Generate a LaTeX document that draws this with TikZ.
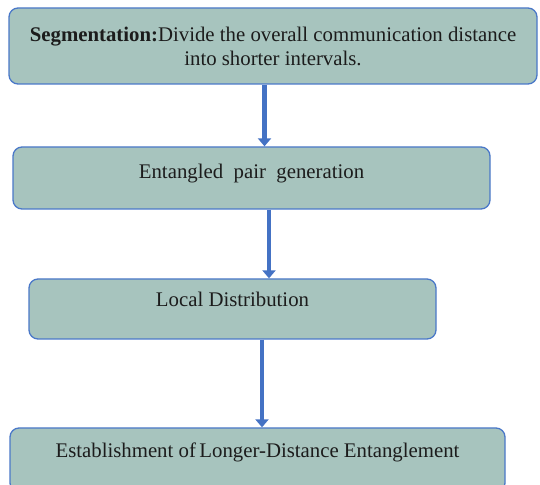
\documentclass[tikz,border=0pt]{standalone}
\usepackage{fontspec}
\setmainfont{Liberation Serif}
\usepackage{tikz}
\usetikzlibrary{
  arrows.meta,
  positioning,
}
\definecolor{stepFill}{HTML}{A7C4BE}
\definecolor{stepLine}{HTML}{4A78C8}
\definecolor{flowBlue}{HTML}{4472C4}
\definecolor{stepText}{HTML}{1C1C1C}

\tikzset{
  stepbox/.style={draw=stepLine, fill=stepFill, rounded corners=9pt,
    line width=1.3pt, text=stepText, align=center, inner sep=4pt,
    font=\fontsize{20.8}{24}\selectfont},
  flowarrow/.style={draw=flowBlue, line width=4.5pt,
    -{Triangle[width=13pt,length=8pt]}},
}

\begin{document}
\begin{tikzpicture}[x=1pt,y=1pt]

\useasboundingbox (0,0) rectangle (540,484);

% process steps, top to bottom (extra text depth lifts the label a little)
\node[stepbox, minimum width=528pt, minimum height=76pt]
  (seg) at (273, 438) {%
    \textbf{Segmentation:}Divide the overall communication distance\\
    into shorter intervals.%
  };
\node[stepbox, minimum width=477pt, minimum height=62pt, text depth=13pt]
  (gen) at (251.5, 306) {Entangled\ \ pair\ \ generation};
\node[stepbox, minimum width=407pt, minimum height=60pt, text depth=20pt]
  (loc) at (232.5, 175) {Local Distribution};
\node[stepbox, minimum width=495pt, minimum height=64pt, text depth=20pt]
  (est) at (257.5, 24) {Establishment of\,Longer-Distance Entanglement};

% connectors between the steps
\draw[flowarrow] ([xshift=-8.5pt]seg.south) -- ([xshift=13pt]gen.north);
\draw[flowarrow] ([xshift=17.5pt]gen.south) -- ([xshift=36.5pt]loc.north);
\draw[flowarrow] ([xshift=29.5pt]loc.south) -- ([xshift=4.5pt]est.north);

\end{tikzpicture}
\end{document}
